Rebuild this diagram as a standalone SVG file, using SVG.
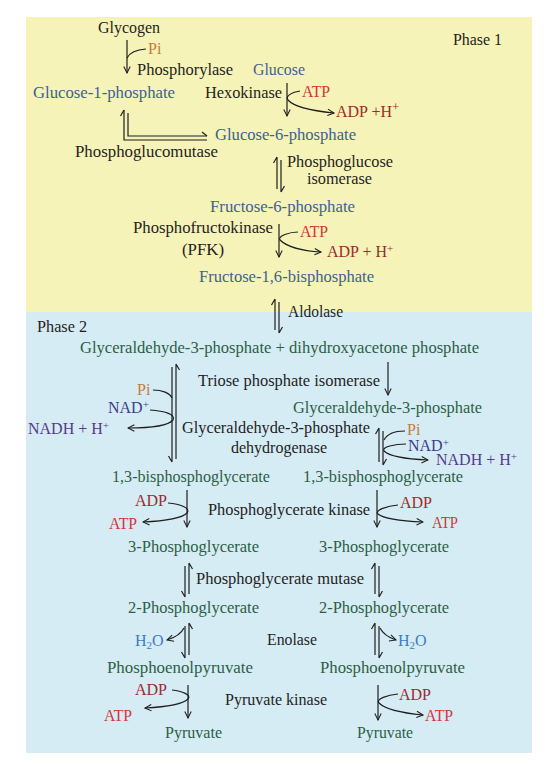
<svg xmlns="http://www.w3.org/2000/svg" width="557" height="764" viewBox="0 0 557 764">
<defs>
<marker id="ah" viewBox="0 0 10 10" refX="9" refY="5" markerWidth="8" markerHeight="8" markerUnits="userSpaceOnUse" orient="auto">
<path d="M1,1 L9,5 L1,9" fill="none" stroke="#1e1e1e" stroke-width="1.3"/>
</marker>
<style>
text{font-family:"Liberation Serif","Times New Roman",serif;font-size:16px}
.b{fill:#1e1e1e}.bl{fill:#3d6192}.g{fill:#2c5e45}.r{fill:#d5343b}.dr{fill:#9b2b2b}.o{fill:#c67a3c}.n{fill:#3c3c8a}.nh{fill:#56398a}.h{fill:#3a7bc2}
.ln{fill:none;stroke:#1e1e1e;stroke-width:1.2}
.ar{fill:none;stroke:#1e1e1e;stroke-width:1.2;marker-end:url(#ah)}
.sup{font-size:11px}
</style>
</defs>
<rect x="26" y="17" width="506" height="295" fill="#f6f3b8"/>
<rect x="26" y="312" width="506" height="441" fill="#d6ecf4"/>

<g id="labels-phase">
<text class="b" x="453" y="45" textLength="49" lengthAdjust="spacingAndGlyphs">Phase 1</text>
<text class="b" x="37" y="332" textLength="50" lengthAdjust="spacingAndGlyphs">Phase 2</text>
</g>

<g id="connectors">
<path class="ar" d="M127,40 V73"/>
<path class="ln" d="M127,58 Q131,50 146,49"/>
<path class="ar" d="M287,83 V116"/>
<path class="ar" d="M300,91 C292,92 285,96 288,100 C294,107 314,111 334,113"/>
<path class="ln" d="M124,110 V140 H207"/>
<path class="ln" d="M124,110 L120.5,116"/>
<path class="ln" d="M128,113 V136 H207"/>
<path class="ln" d="M207,136 L202,132"/>
<path class="ln" d="M277,157 V189 M277,157 L273.5,163 M281,160 V192 M281,192 L284.5,186"/>
<path class="ar" d="M279,224 V257"/>
<path class="ar" d="M298,232 C290,232 277,236 280,240 C287,247 304,251 321,252"/>
<path class="ln" d="M275,299 V330 M275,299 L271.5,305 M279,302 V333 M279,333 L282.5,327"/>
<path class="ln" d="M172,367 V462 M172,462 L168.5,456 M176,364 V459 M176,364 L179.5,370"/>
<path class="ar" d="M388,362 V395"/>
<path class="ln" d="M153,390 C162,390 170,393 172,398"/>
<path class="ar" d="M150,410 C164,411 176,414 173,420 C168,426 150,428 128,428"/>
<path class="ln" d="M379,428 V462 M379,428 L375.5,434 M383,431 V465 M383,465 L386.5,459"/>
<path class="ln" d="M405,431 C395,431 387,434 384,440"/>
<path class="ar" d="M406,444 C395,444 381,447 384,451 C389,456 405,459 428,460"/>
<path class="ar" d="M187,490 V527"/>
<path class="ar" d="M168,503 C180,504 191,508 187,513 C181,519 165,521 143,522"/>
<path class="ar" d="M377,490 V527"/>
<path class="ar" d="M398,505 C388,506 374,510 378,514 C384,519 400,521 423,522"/>
<path class="ln" d="M185,566 V597 M185,597 L181.5,591 M189,563 V594 M189,563 L192.5,569"/>
<path class="ln" d="M375,563 V594 M375,563 L371.5,569 M379,566 V597 M379,597 L382.5,591"/>
<path class="ln" d="M185,626 V658 M185,658 L181.5,652 M189,623 V655 M189,623 L192.5,629"/>
<path class="ar" d="M184,628 Q180,636 167,640"/>
<path class="ln" d="M375,623 V655 M375,623 L371.5,629 M379,626 V658 M379,658 L382.5,652"/>
<path class="ar" d="M380,628 Q384,636 396,640"/>
<path class="ar" d="M188,685 V718"/>
<path class="ar" d="M172,690 C182,691 192,695 188,699 C182,705 165,707 145,708"/>
<path class="ar" d="M378,685 V720"/>
<path class="ar" d="M398,694 C388,695 375,699 379,703 C385,709 402,713 423,715"/>
</g>

<g id="n-glycogen"><text class="b" x="98" y="33" textLength="62" lengthAdjust="spacingAndGlyphs">Glycogen</text></g>
<g id="n-pi1"><text class="o" x="148" y="54">Pi</text></g>
<g id="n-phosphorylase"><text class="b" x="137" y="75" textLength="96" lengthAdjust="spacingAndGlyphs">Phosphorylase</text></g>
<g id="n-glucose"><text class="bl" x="253" y="75" textLength="52" lengthAdjust="spacingAndGlyphs">Glucose</text></g>
<g id="n-g1p"><text class="bl" x="33" y="98" textLength="142" lengthAdjust="spacingAndGlyphs">Glucose-1-phosphate</text></g>
<g id="n-hexokinase"><text class="b" x="205" y="98" textLength="77" lengthAdjust="spacingAndGlyphs">Hexokinase</text></g>
<g id="n-atp1"><text class="r" x="302" y="97" textLength="28" lengthAdjust="spacingAndGlyphs">ATP</text></g>
<g id="n-adp1"><text class="dr" x="336" y="117">ADP +H<tspan font-size="13" dy="-6">+</tspan></text></g>
<g id="n-g6p"><text class="bl" x="215" y="140" textLength="141" lengthAdjust="spacingAndGlyphs">Glucose-6-phosphate</text></g>
<g id="n-pgm"><text class="b" x="75" y="157" textLength="143" lengthAdjust="spacingAndGlyphs">Phosphoglucomutase</text></g>
<g id="n-pgi"><text class="b" x="287" y="167" textLength="106" lengthAdjust="spacingAndGlyphs">Phosphoglucose</text><text class="b" x="307" y="184" textLength="65" lengthAdjust="spacingAndGlyphs">isomerase</text></g>
<g id="n-f6p"><text class="bl" x="210" y="212" textLength="145" lengthAdjust="spacingAndGlyphs">Fructose-6-phosphate</text></g>
<g id="n-pfk"><text class="b" x="133" y="233" textLength="140" lengthAdjust="spacingAndGlyphs">Phosphofructokinase</text><text class="b" x="182" y="255" textLength="42" lengthAdjust="spacingAndGlyphs">(PFK)</text></g>
<g id="n-atp2"><text class="r" x="300" y="237" textLength="28" lengthAdjust="spacingAndGlyphs">ATP</text></g>
<g id="n-adp2"><text class="dr" x="327" y="257">ADP + H<tspan class="sup" dy="-5">+</tspan></text></g>
<g id="n-f16bp"><text class="bl" x="199" y="282" textLength="175" lengthAdjust="spacingAndGlyphs">Fructose-1,6-bisphosphate</text></g>
<g id="n-aldolase"><text class="b" x="288" y="317" textLength="55" lengthAdjust="spacingAndGlyphs">Aldolase</text></g>

<g id="n-g3p-dhap"><text class="g" x="80" y="353" textLength="399" lengthAdjust="spacingAndGlyphs">Glyceraldehyde-3-phosphate + dihydroxyacetone phosphate</text></g>
<g id="n-tpi"><text class="b" x="198" y="386" textLength="182" lengthAdjust="spacingAndGlyphs">Triose phosphate isomerase</text></g>
<g id="n-g3p-r"><text class="g" x="293" y="413" textLength="189" lengthAdjust="spacingAndGlyphs">Glyceraldehyde-3-phosphate</text></g>
<g id="n-pi-l"><text class="o" x="137" y="395">Pi</text></g>
<g id="n-nad-l"><text class="n" x="108" y="413">NAD<tspan class="sup" dy="-5">+</tspan></text></g>
<g id="n-nadh-l"><text class="nh" x="28" y="434">NADH + H<tspan class="sup" dy="-5">+</tspan></text></g>
<g id="n-g3pdh"><text class="b" x="182" y="433" textLength="188" lengthAdjust="spacingAndGlyphs">Glyceraldehyde-3-phosphate</text><text class="b" x="279" y="453" text-anchor="middle">dehydrogenase</text></g>
<g id="n-pi-r"><text class="o" x="407" y="435">Pi</text></g>
<g id="n-nad-r"><text class="n" x="408" y="451">NAD<tspan class="sup" dy="-5">+</tspan></text></g>
<g id="n-nadh-r"><text class="nh" x="436" y="465">NADH + H<tspan class="sup" dy="-5">+</tspan></text></g>
<g id="n-13bpg-l"><text class="g" x="112" y="482" textLength="158" lengthAdjust="spacingAndGlyphs">1,3-bisphosphoglycerate</text></g>
<g id="n-13bpg-r"><text class="g" x="303" y="482" textLength="160" lengthAdjust="spacingAndGlyphs">1,3-bisphosphoglycerate</text></g>
<g id="n-adp3"><text class="dr" x="135" y="506" textLength="32" lengthAdjust="spacingAndGlyphs">ADP</text></g>
<g id="n-atp3"><text class="r" x="109" y="529" textLength="28" lengthAdjust="spacingAndGlyphs">ATP</text></g>
<g id="n-pgk"><text class="b" x="208" y="515" textLength="162" lengthAdjust="spacingAndGlyphs">Phosphoglycerate kinase</text></g>
<g id="n-adp4"><text class="dr" x="400" y="508" textLength="32" lengthAdjust="spacingAndGlyphs">ADP</text></g>
<g id="n-atp4"><text class="r" x="432" y="528" textLength="26" lengthAdjust="spacingAndGlyphs">ATP</text></g>
<g id="n-3pg-l"><text class="g" x="128" y="552" textLength="131" lengthAdjust="spacingAndGlyphs">3-Phosphoglycerate</text></g>
<g id="n-3pg-r"><text class="g" x="319" y="552" textLength="130" lengthAdjust="spacingAndGlyphs">3-Phosphoglycerate</text></g>
<g id="n-pgmut"><text class="b" x="196" y="584" textLength="168" lengthAdjust="spacingAndGlyphs">Phosphoglycerate mutase</text></g>
<g id="n-2pg-l"><text class="g" x="128" y="613" textLength="131" lengthAdjust="spacingAndGlyphs">2-Phosphoglycerate</text></g>
<g id="n-2pg-r"><text class="g" x="319" y="613" textLength="130" lengthAdjust="spacingAndGlyphs">2-Phosphoglycerate</text></g>
<g id="n-h2o-l"><text class="h" x="135" y="646">H<tspan font-size="11" dy="3">2</tspan><tspan dy="-3">O</tspan></text></g>
<g id="n-enolase"><text class="b" x="267" y="645" textLength="50" lengthAdjust="spacingAndGlyphs">Enolase</text></g>
<g id="n-h2o-r"><text class="h" x="398" y="646">H<tspan font-size="11" dy="3">2</tspan><tspan dy="-3">O</tspan></text></g>
<g id="n-pep-l"><text class="g" x="107" y="673" textLength="146" lengthAdjust="spacingAndGlyphs">Phosphoenolpyruvate</text></g>
<g id="n-pep-r"><text class="g" x="320" y="673" textLength="145" lengthAdjust="spacingAndGlyphs">Phosphoenolpyruvate</text></g>
<g id="n-adp5"><text class="dr" x="135" y="695" textLength="32" lengthAdjust="spacingAndGlyphs">ADP</text></g>
<g id="n-atp5"><text class="r" x="104" y="721" textLength="28" lengthAdjust="spacingAndGlyphs">ATP</text></g>
<g id="n-pk"><text class="b" x="225" y="705" textLength="102" lengthAdjust="spacingAndGlyphs">Pyruvate kinase</text></g>
<g id="n-adp6"><text class="dr" x="399" y="700" textLength="32" lengthAdjust="spacingAndGlyphs">ADP</text></g>
<g id="n-atp6"><text class="r" x="425" y="721" textLength="28" lengthAdjust="spacingAndGlyphs">ATP</text></g>
<g id="n-pyr-l"><text class="g" x="165" y="738" textLength="57" lengthAdjust="spacingAndGlyphs">Pyruvate</text></g>
<g id="n-pyr-r"><text class="g" x="357" y="738" textLength="56" lengthAdjust="spacingAndGlyphs">Pyruvate</text></g>
</svg>
